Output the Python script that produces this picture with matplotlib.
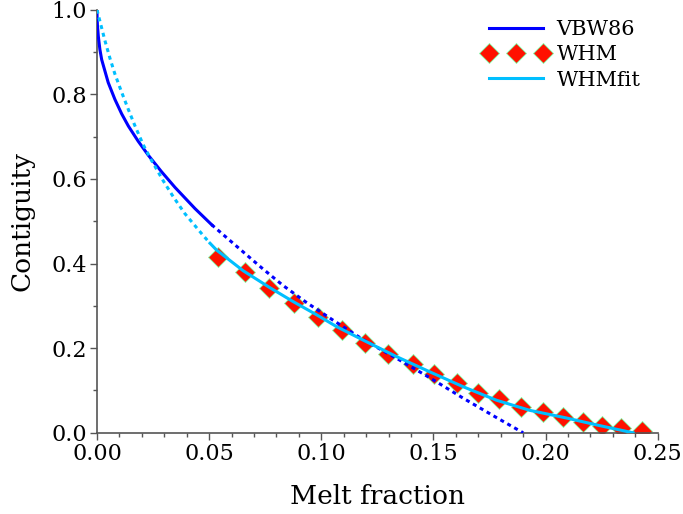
import numpy as np
import matplotlib.pyplot as plt
from matplotlib.ticker import MultipleLocator

plt.rcParams['font.family'] = ['DejaVu Serif']

# VBW86 curve (solid part, then dotted extension)
vbw_x = [0.0, 0.00005, 0.0002, 0.0006, 0.0013, 0.0021, 0.005, 0.008, 0.011, 0.014, 0.0184,
         0.0229, 0.0288, 0.0348, 0.0437, 0.0511]
vbw_y = [1.0, 0.982, 0.963, 0.937, 0.906, 0.882, 0.828, 0.788, 0.754, 0.725, 0.689,
         0.656, 0.617, 0.580, 0.530, 0.492]
vbw_ext_x = [0.0511, 0.0607, 0.0734, 0.083, 0.0934, 0.1053, 0.1187, 0.1336, 0.1484, 0.1632, 0.1781, 0.190]
vbw_ext_y = [0.492, 0.448, 0.390, 0.348, 0.308, 0.266, 0.220, 0.176, 0.130, 0.082, 0.036, 0.0]

# WHM data points
whm_x = [0.0539, 0.0660, 0.0767, 0.0878, 0.0985, 0.1092, 0.1194, 0.1297, 0.1408, 0.1504,
         0.1604, 0.1698, 0.1791, 0.1889, 0.1988, 0.2077, 0.2166, 0.2250, 0.2335, 0.2429]
whm_y = [0.416, 0.379, 0.342, 0.307, 0.274, 0.243, 0.212, 0.186, 0.163, 0.140,
         0.118, 0.095, 0.079, 0.061, 0.049, 0.037, 0.025, 0.016, 0.011, 0.004]

# WHM fit (dotted extrapolation, then solid)
fit_ext_x = [0.0, 0.0013, 0.0036, 0.0058, 0.008, 0.011, 0.014, 0.0169, 0.0206, 0.0243, 0.0295,
             0.034, 0.0392, 0.0474, 0.0504]
fit_ext_y = [1.0, 0.973, 0.926, 0.885, 0.848, 0.805, 0.764, 0.726, 0.681, 0.644, 0.596,
             0.558, 0.518, 0.466, 0.448]
fit_x = [0.0504, 0.0533, 0.0652, 0.0771, 0.0875, 0.0979, 0.1068, 0.1187, 0.1336, 0.1484,
         0.1632, 0.1781, 0.193, 0.2093, 0.2241, 0.239]
fit_y = [0.448, 0.432, 0.383, 0.343, 0.310, 0.279, 0.251, 0.219, 0.180, 0.144,
         0.109, 0.077, 0.053, 0.035, 0.017, 0.0]

blue = '#0000FF'
cyan = '#00BFFF'
dots = (0, (1.3, 1.3))

fig = plt.figure(figsize=(6.83, 5.14), dpi=100)
ax = fig.add_axes([0.142, 0.158, 0.821, 0.823])

ax.plot(whm_x, whm_y, linestyle='none', marker='D', markersize=10,
        markerfacecolor='#FF1100', markeredgecolor='#7FFFAA', markeredgewidth=0.6,
        label='WHM', zorder=2)
ax.plot(vbw_x, vbw_y, color=blue, lw=2.2, label='VBW86', zorder=3)
ax.plot(vbw_ext_x, vbw_ext_y, color=blue, lw=2.2, linestyle=dots, zorder=3)
ax.plot(fit_x, fit_y, color=cyan, lw=2.2, label='WHMfit', zorder=3)
ax.plot(fit_ext_x, fit_ext_y, color=cyan, lw=2.2, linestyle=dots, zorder=3)

ax.set_xlim(0, 0.25)
ax.set_ylim(0, 1.0)
ax.xaxis.set_major_locator(MultipleLocator(0.05))
ax.xaxis.set_minor_locator(MultipleLocator(0.01))
ax.yaxis.set_major_locator(MultipleLocator(0.2))
ax.yaxis.set_minor_locator(MultipleLocator(0.1))
ax.xaxis.set_major_formatter(plt.FormatStrFormatter('%.2f'))
ax.yaxis.set_major_formatter(plt.FormatStrFormatter('%.1f'))

for s in ['top', 'right']:
    ax.spines[s].set_visible(False)
for s in ['left', 'bottom']:
    ax.spines[s].set_color('#555555')
    ax.spines[s].set_linewidth(1.2)
ax.tick_params(which='major', length=5, width=1, color='#555555', labelsize=16, pad=2)
ax.tick_params(which='minor', length=3, width=1, color='#555555')

ax.set_xlabel('Melt fraction', fontsize=19, labelpad=14)
ax.set_ylabel('Contiguity', fontsize=19, labelpad=12)

handles, labels = ax.get_legend_handles_labels()
order = [labels.index(n) for n in ['VBW86', 'WHM', 'WHMfit']]
ax.legend([handles[i] for i in order], [labels[i] for i in order],
          loc='upper right', bbox_to_anchor=(1.003, 1.02), frameon=False, fontsize=15,
          numpoints=3, handlelength=3.2, handletextpad=0.35, labelspacing=0.3)

fig.savefig('out.png', dpi=100)
